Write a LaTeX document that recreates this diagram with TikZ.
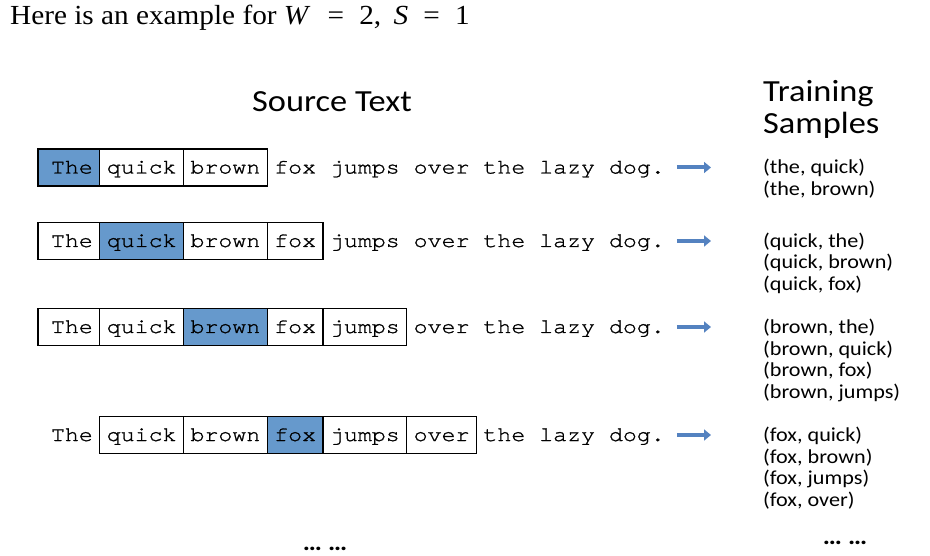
\documentclass[tikz,border=0pt]{standalone}
\usepackage{fontspec}
\setmainfont[FakeStretch=1.06]{Liberation Serif}
\newfontfamily\monofont[FakeStretch=1.12, FakeBold=1.2]{texgyrecursor-regular.otf}
\newfontfamily\labelfont[FakeStretch=1.12]{Carlito}
\usetikzlibrary{arrows.meta,positioning}
\definecolor{cellblue}{RGB}{102,153,204}
\definecolor{arrowblue}{RGB}{84,130,192}

\begin{document}
\begin{tikzpicture}[x=1pt, y=-1pt,
    node distance=0pt,
    cell/.style={inner sep=0pt, outer sep=0pt, minimum height=37pt, text height=14pt, text depth=2pt, font=\monofont\fontsize{20.76}{24}\selectfont},
    w3/.style={cell, minimum width=55.8pt},
    w4/.style={cell, minimum width=69.75pt},
    w5/.style={cell, minimum width=83.7pt},
    first/.style={cell, minimum width=61.8pt, text width=47.85pt, align=right},
    box/.style={draw, line width=1.3pt, fill=white},
    hit/.style={draw, line width=1.3pt, fill=cellblue},
    pairs/.style={inner sep=0pt, anchor=base west, align=left, font=\labelfont\fontsize{19.8}{21.5}\selectfont},
    head/.style={inner sep=0pt, font=\labelfont\fontsize{30.7}{32}\selectfont},
    more/.style={inner sep=0pt, anchor=base, font=\labelfont\bfseries\fontsize{24}{26}\selectfont},
    flow/.style={arrowblue, line width=4pt, -{Triangle[length=7pt,width=11pt]}, shorten <=5pt, shorten >=52pt}
]
\useasboundingbox (0,0) rectangle (930,556);

% headings
\node[anchor=base west, inner sep=0pt, font=\fontsize{27.6}{30}\selectfont] (title) at (10,25)
    {Here is an example for \textit{W}\hspace{0.62em}=\hspace{0.55em}2,\hspace{0.45em}\textit{S}\hspace{0.55em}=\hspace{0.55em}1};
\node[head, anchor=base] (src) at (332,112) {Source Text};
\node[head, anchor=base west, align=left] (trn) at (763,134) {Training\\Samples};

% row 1: the
\node[first, hit, anchor=west] (t1) at (38,167.5) {The};
\node[w5, box, right=of t1] (q1) {quick};
\node[w5, box, right=of q1] (b1) {brown};
\node[w3, right=of b1] (f1) {fox};
\node[w5, right=of f1] (j1) {jumps};
\node[w4, right=of j1] (o1) {over};
\node[w3, right=of o1] (h1) {the};
\node[w4, right=of h1] (l1) {lazy};
\node[w4, right=of l1] (d1) {dog.};
\node[pairs] (p1) at (763,195.5) {(the, quick)\\(the, brown)};

% row 2: quick
\node[first, box, anchor=west] (t2) at (38,241) {The};
\node[w5, hit, right=of t2] (q2) {quick};
\node[w5, box, right=of q2] (b2) {brown};
\node[w3, box, right=of b2] (f2) {fox};
\node[w5, right=of f2] (j2) {jumps};
\node[w4, right=of j2] (o2) {over};
\node[w3, right=of o2] (h2) {the};
\node[w4, right=of h2] (l2) {lazy};
\node[w4, right=of l2] (d2) {dog.};
\node[pairs] (p2) at (763,290.5) {(quick, the)\\(quick, brown)\\(quick, fox)};

% row 3: brown
\node[first, box, anchor=west] (t3) at (38,327) {The};
\node[w5, box, right=of t3] (q3) {quick};
\node[w5, hit, right=of q3] (b3) {brown};
\node[w3, box, right=of b3] (f3) {fox};
\node[w5, box, right=of f3] (j3) {jumps};
\node[w4, right=of j3] (o3) {over};
\node[w3, right=of o3] (h3) {the};
\node[w4, right=of h3] (l3) {lazy};
\node[w4, right=of l3] (d3) {dog.};
\node[pairs] (p3) at (763,398) {(brown, the)\\(brown, quick)\\(brown, fox)\\(brown, jumps)};

% row 4: fox
\node[first, anchor=west] (t4) at (38,435) {The};
\node[w5, box, right=of t4] (q4) {quick};
\node[w5, box, right=of q4] (b4) {brown};
\node[w3, hit, right=of b4] (f4) {fox};
\node[w5, box, right=of f4] (j4) {jumps};
\node[w4, box, right=of j4] (o4) {over};
\node[w3, right=of o4] (h4) {the};
\node[w4, right=of h4] (l4) {lazy};
\node[w4, right=of l4] (d4) {dog.};
\node[pairs] (p4) at (763,506) {(fox, quick)\\(fox, brown)\\(fox, jumps)\\(fox, over)};

\node[more] (m1) at (325,550) {… …};
\node[more] (m2) at (845,544) {… …};

\draw[flow] (d1.east) -- (d1.east -| p1.west);
\draw[flow] (d2.east) -- (d2.east -| p2.west);
\draw[flow] (d3.east) -- (d3.east -| p3.west);
\draw[flow] (d4.east) -- (d4.east -| p4.west);
\end{tikzpicture}
\end{document}
